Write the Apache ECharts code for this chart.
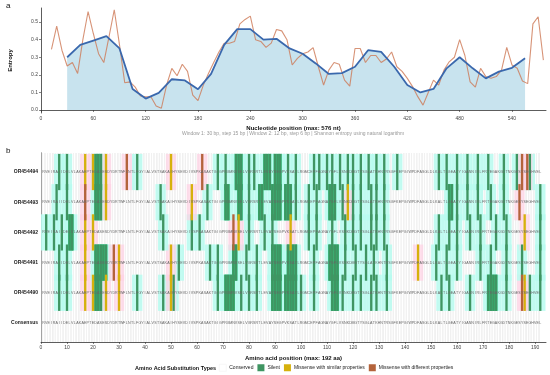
<!DOCTYPE html>
<html><head><meta charset="utf-8">
<script src="https://cdn.jsdelivr.net/npm/echarts@6/dist/echarts.min.js"></script>
<style>html,body{margin:0;padding:0;background:#fff}#c{width:550px;height:375px}</style>
</head><body><div id="c"></div>
<script>
// ---------- Panel a data ----------
const win1Pos = [30,45,60,75,90,105,120,135,150,165,180,195,210,225,240,255,270,285,300,315,330,345,360,375,390,405,420,435,450,465,480,495,510,525,540,555];
const win1Entropy = [0.30,0.37,0.395,0.42,0.35,0.12,0.065,0.097,0.175,0.168,0.118,0.205,0.37,0.46,0.46,0.40,0.405,0.35,0.32,0.265,0.205,0.21,0.246,0.34,0.33,0.246,0.142,0.10,0.12,0.237,0.30,0.237,0.18,0.218,0.24,0.294];
const win2Pos = [12,18,24,30,36,42,48,54,60,66,72,78,84,90,96,102,108,114,120,126,132,138,144,150,156,162,168,174,180,186,192,198,204,210,216,222,228,234,240,246,252,258,264,270,276,282,288,294,300,306,312,318,324,330,336,342,348,354,360,366,372,378,384,390,396,402,408,414,420,426,432,438,444,450,456,462,468,474,480,486,492,498,504,510,516,522,528,534,540,546,552,558,564,570,576];
const win2Entropy = [0.345,0.477,0.34,0.25,0.27,0.208,0.40,0.56,0.435,0.32,0.27,0.417,0.57,0.37,0.155,0.16,0.13,0.08,0.075,0.075,0.023,0.01,0.142,0.237,0.195,0.26,0.22,0.085,0.053,0.14,0.208,0.27,0.33,0.38,0.38,0.39,0.49,0.515,0.534,0.40,0.39,0.356,0.38,0.458,0.45,0.40,0.256,0.294,0.32,0.33,0.355,0.246,0.142,0.227,0.27,0.26,0.17,0.136,0.35,0.35,0.27,0.31,0.31,0.27,0.29,0.33,0.246,0.22,0.18,0.133,0.076,0.028,0.10,0.17,0.142,0.227,0.274,0.30,0.40,0.31,0.16,0.13,0.237,0.19,0.18,0.19,0.227,0.356,0.256,0.237,0.165,0.15,0.49,0.53,0.284];
const ntTicks = [0,60,120,180,240,300,360,420,480,540];
const entropyTicks = [0,0.1,0.2,0.3,0.4,0.5];

// ---------- Panel b data ----------
const samples = ['Consensus','OR454490','OR454491','OR454492','OR454493','OR454494'];
const consensusSeq = 'RVEIRAIIDELVLAKAEPTEDASESDYDRTWFLNTLFGYIALVSTSAKAIHYSEVDIVSPKASAKTGIGPRGMNVSELVGRSRTLEVAYSEGPVKSATLRGMCEPFAGNAYGFLVSNKDMGTYSGLATKHNTRSGFKEPGIWPDFASGLDLKALTLGEATYIGANNIRLFRTEGAKGDTNKGESYSEGHVEL';
const aaTicks = [0,10,20,30,40,50,60,70,80,90,100,110,120,130,140,150,160,170,180,190];

const silent494 = [7,10,21,22,23,37,68,71,75,76,77,80,82,86,87,88,90,91,92,95,98,105,107,110,112,115,118,120,123,126,129,132,137,153,156,160,164,168,172,178,183,188];
const similar494 = [17,20,25,50];
const different494 = [33,62,185,187];

const silent493 = [6,10,21,22,23,46,64,71,72,76,77,80,84,85,89,90,91,92,94,95,96,98,103,106,111,112,113,116,120,123,127,129,132,157,158,160,164,168,173,178,192];
const similar493 = [25,58,118];
const different493 = [17,184];

const silent492 = [2,5,8,11,12,47,58,61,80,86,89,103,106,112,117,120,123,127,129,132,153,157,160,165,169,175,179,192];
const similar492 = [17,20,76,96,186];
const different492 = [74];

const silent491 = [7,10,21,22,23,24,25,53,65,68,74,75,79,83,89,90,91,92,95,96,97,98,105,111,112,113,114,117,121,125,128,133,152,156,160,169,173,179,185,192];
const similar491 = [17,30,50,145];
const different491 = [28];

const silent490 = [7,10,21,22,23,37,47,51,68,71,72,73,74,77,80,83,89,90,91,92,94,95,96,97,98,100,105,112,113,114,116,120,123,127,129,133,154,157,165,172,173,174,175,179,188,192];
const similar490 = [17,20,25,30,50,186];
const different490 = [185];

// ---------- build ----------
const rowSets = [
  {row:5, S:silent494, Y:similar494, D:different494},
  {row:4, S:silent493, Y:similar493, D:different493},
  {row:3, S:silent492, Y:similar492, D:different492},
  {row:2, S:silent491, Y:similar491, D:different491},
  {row:1, S:silent490, Y:similar490, D:different490}
];
const silentData=[], similarData=[], differentData=[], haloData=[], brightData=[];
rowSets.sort((a,b)=>a.row-b.row).forEach(r=>{
  const sset = new Set(r.S);
  r.S.forEach(p=>{ silentData.push([p,r.row]); haloData.push([p,r.row,0]); if(sset.has(p-1)||sset.has(p+1)) brightData.push([p,r.row]); });
  r.Y.forEach(p=>{ similarData.push([p,r.row]); haloData.push([p,r.row,1]); });
  r.D.forEach(p=>{ differentData.push([p,r.row]); haloData.push([p,r.row,1]); });
});
const conservedData=[], textData=[];
for (let ri=0; ri<samples.length; ri++){
  for (let i=0;i<consensusSeq.length;i++){
    conservedData.push([i+1, ri]);
    textData.push([i+1, ri, consensusSeq[i]]);
  }
}

function rectItem(params, api, halfW, halfH, style){
  const p0 = api.coord([api.value(0)-halfW, api.value(1)+halfH]);
  const p1 = api.coord([api.value(0)+halfW, api.value(1)-halfH]);
  const cs = params.coordSys;
  const r = echarts.graphic.clipRectByRect({x:p0[0],y:p0[1],width:p1[0]-p0[0],height:p1[1]-p0[1]},{x:cs.x,y:cs.y,width:cs.width,height:cs.height});
  return r && {type:'rect', shape:r, style:style};
}

const FONT = 'Liberation Sans, Arial, sans-serif';
const COL_S = '#3f9562', COL_Y = '#d6b10c', COL_D = '#b4633b';

const chart = echarts.init(document.getElementById('c'), null, {renderer:'canvas'});
chart.setOption({
  animation:false,
  textStyle:{fontFamily:FONT},
  grid:[
    {left:41, top:8, width:505, height:105, outerBoundsMode:'none', containLabel:false},
    {left:41, top:153, width:505, height:189, outerBoundsMode:'none', containLabel:false}
  ],
  xAxis:[
    {type:'value', gridIndex:0, min:0, max:579,
     axisLine:{show:true, lineStyle:{color:'#333', width:0.8}},
     axisTick:{show:true, customValues:ntTicks, length:2, lineStyle:{color:'#333', width:0.6}},
     axisLabel:{customValues:ntTicks, fontSize:5, color:'#444', margin:3},
     splitLine:{show:false},
     name:'Nucleotide position (max: 576 nt)', nameLocation:'middle', nameGap:12,
     nameTextStyle:{fontSize:6, fontWeight:'bold', color:'#111'}},
    {type:'value', gridIndex:1, min:0, max:194.2,
     axisLine:{show:true, onZero:false, lineStyle:{color:'#333', width:0.8}},
     axisTick:{show:true, customValues:aaTicks, length:2, lineStyle:{color:'#333', width:0.6}},
     axisLabel:{customValues:aaTicks, fontSize:5, color:'#444', margin:3},
     splitLine:{show:false},
     name:'Amino acid position (max: 192 aa)', nameLocation:'middle', nameGap:13,
     nameTextStyle:{fontSize:6, fontWeight:'bold', color:'#111'}}
  ],
  yAxis:[
    {type:'value', gridIndex:0, min:-0.017, max:0.58,
     axisLine:{show:true, lineStyle:{color:'#333', width:0.8}},
     axisTick:{show:true, customValues:entropyTicks, length:2, lineStyle:{color:'#333', width:0.6}},
     axisLabel:{customValues:entropyTicks, fontSize:5, color:'#444', margin:3, formatter:v=>v.toFixed(1)},
     splitLine:{show:false},
     name:'Entropy', nameLocation:'middle', nameGap:28, nameRotate:90,
     nameTextStyle:{fontSize:6, fontWeight:'bold', color:'#111'}},
    {type:'value', gridIndex:1, min:-0.63, max:5.63,
     axisLine:{show:true, onZero:false, lineStyle:{color:'#333', width:0.8}},
     axisTick:{show:false},
     axisLabel:{customValues:[0,1,2,3,4,5], fontSize:5, fontWeight:'bold', color:'#222', margin:3, formatter:v=>samples[Math.round(v)]},
     splitLine:{show:false},
     name:'Sample', nameLocation:'middle', nameGap:29, nameRotate:90,
     nameTextStyle:{fontSize:6, fontWeight:'bold', color:'#111'}}
  ],
  legend:{
    left:219, top:364, itemWidth:7, itemHeight:7, itemGap:4, icon:'rect', selectedMode:false, padding:0,
    textStyle:{fontSize:5, color:'#222', padding:[0,0,0,-2]},
    data:[{name:'Conserved', itemStyle:{color:'#ffffff', borderColor:'#eeeeee', borderWidth:0.5}},
          'Silent','Missense with similar properties','Missense with different properties']
  },
  graphic:[
    {type:'text', left:6, top:2, style:{text:'a', fontSize:8, fill:'#111', fontFamily:FONT}},
    {type:'text', left:6, top:147, style:{text:'b', fontSize:8, fill:'#111', fontFamily:FONT}},
    {type:'text', x:293, y:134, style:{text:'Window 1: 30 bp, step 15 bp | Window 2: 12 bp, step 6 bp | Shannon entropy using natural logarithm', fontSize:5, fill:'#999', align:'center', verticalAlign:'middle', fontFamily:FONT}},
    {type:'text', x:135, y:368, style:{text:'Amino Acid Substitution Types', fontSize:5.5, fontWeight:'bold', fill:'#111', verticalAlign:'middle', fontFamily:FONT}}
  ],
  series:[
    {type:'line', name:'w1area', xAxisIndex:0, yAxisIndex:0, z:1, symbol:'none',
     data:win1Pos.map((p,i)=>[p,win1Entropy[i]]), lineStyle:{width:0},
     areaStyle:{color:'#c8e3ee', opacity:1}},
    {type:'line', name:'Window 2', xAxisIndex:0, yAxisIndex:0, z:2, symbol:'none',
     data:win2Pos.map((p,i)=>[p,win2Entropy[i]]), lineStyle:{width:1.1, color:'rgba(205,120,85,0.8)'}},
    {type:'line', name:'Window 1', xAxisIndex:0, yAxisIndex:0, z:3, symbol:'none',
     data:win1Pos.map((p,i)=>[p,win1Entropy[i]]), lineStyle:{width:1.8, color:'#3a68ad'}},

    {type:'custom', name:'Conserved', xAxisIndex:1, yAxisIndex:1, z:1, itemStyle:{color:'#ffffff'},
     data:conservedData, silent:true,
     renderItem:(params,api)=>{
       const x = api.coord([api.value(0)-0.5, 0])[0];
       const cs = params.coordSys;
       return {type:'line', shape:{x1:x,y1:cs.y,x2:x,y2:cs.y+cs.height}, style:{stroke:'#f0f0f0', lineWidth:0.5}};
     }},
    {type:'custom', name:'halo', xAxisIndex:1, yAxisIndex:1, z:2, data:haloData, silent:true,
     renderItem:(params,api)=>rectItem(params,api,2,0.6,{fill: api.value(2)===0 ? 'rgba(185,252,240,0.85)' : 'rgba(255,210,228,0.7)'})},
    {type:'custom', name:'bright', xAxisIndex:1, yAxisIndex:1, z:3, data:brightData, silent:true,
     renderItem:(params,api)=>rectItem(params,api,0.55,0.6,{fill:'#27c47a'})},
    {type:'custom', name:'Silent', xAxisIndex:1, yAxisIndex:1, z:4, data:silentData, itemStyle:{color:COL_S},
     renderItem:(params,api)=>rectItem(params,api,0.45,0.6,{fill:COL_S})},
    {type:'custom', name:'Missense with similar properties', xAxisIndex:1, yAxisIndex:1, z:4, data:similarData, itemStyle:{color:COL_Y},
     renderItem:(params,api)=>rectItem(params,api,0.45,0.6,{fill:COL_Y})},
    {type:'custom', name:'Missense with different properties', xAxisIndex:1, yAxisIndex:1, z:4, data:differentData, itemStyle:{color:COL_D},
     renderItem:(params,api)=>rectItem(params,api,0.45,0.6,{fill:COL_D})},
    {type:'custom', name:'seq', xAxisIndex:1, yAxisIndex:1, z:5, data:textData, silent:true,
     renderItem:(params,api)=>{
       const p = api.coord([api.value(0), api.value(1)]);
       return {type:'text', x:p[0], y:p[1], style:{text:textData[params.dataIndex][2], fontSize:3.6, fill:'#666', align:'center', verticalAlign:'middle', fontFamily:FONT}};
     }}
  ]
});
</script></body></html>
